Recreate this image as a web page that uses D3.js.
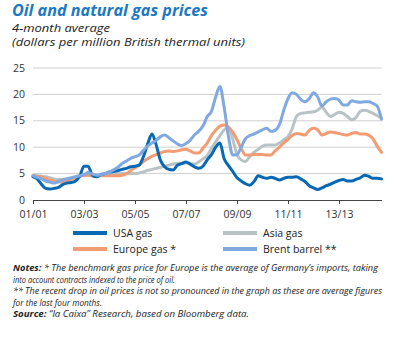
<!DOCTYPE html>
<html>
<head>
<meta charset="utf-8">
<script src="https://cdn.jsdelivr.net/npm/d3@7"></script>
<style>
  body { margin: 0; background: #fff; }
  svg { display: block; font-family: "Open Sans", "Noto Sans", sans-serif; }
</style>
</head>
<body>
<svg width="397" height="338"></svg>
<script>
// bimonthly dates, Jan 2001 .. Sep 2014
const dates = d3.timeMonth.every(2).range(new Date(2001, 0, 1), new Date(2014, 9, 1));

const usaGas = [
  4.4, 4.0, 3.0, 2.2, 2.1, 2.2,
  2.4, 2.9, 3.2, 3.3, 3.6, 4.5,
  6.4, 6.4, 4.7, 4.4, 4.8, 5.0,
  5.3, 5.4, 5.6, 5.8, 6.0, 6.3,
  6.4, 6.6, 8.2, 10.6, 12.5, 10.4,
  7.5, 6.3, 5.8, 5.7, 6.6, 6.9,
  7.2, 6.8, 6.3, 6.0, 6.4, 7.6,
  8.6, 10.0, 10.8, 7.8, 6.5, 5.4,
  4.2, 3.6, 3.1, 2.8, 3.5, 4.6,
  4.3, 4.1, 4.3, 4.1, 3.8, 4.1,
  4.3, 4.3, 4.4, 4.0, 3.5, 2.7,
  2.3, 2.0, 2.3, 2.7, 3.0, 3.4,
  3.7, 3.9, 3.6, 3.6, 3.9, 4.2,
  4.7, 4.5, 4.1, 4.1, 4.0
];

const asiaGas = [
  4.7, 4.6, 4.5, 4.4, 4.2, 4.0,
  3.9, 3.9, 4.0, 4.1, 4.3, 4.5,
  4.6, 4.7, 4.6, 4.6, 4.7, 4.8,
  4.9, 4.9, 5.0, 5.0, 5.0, 5.0,
  5.0, 5.1, 5.3, 5.6, 5.8, 6.0,
  6.2, 6.4, 6.6, 6.8, 6.9, 6.9,
  7.0, 6.9, 6.8, 7.2, 7.8, 8.4,
  9.8, 11.0, 12.2, 13.3, 13.8, 11.5,
  8.6, 7.6, 7.3, 8.2, 9.0, 9.6,
  10.2, 10.4, 10.4, 10.4, 10.8, 11.4,
  12.0, 13.5, 15.8, 16.4, 16.5, 16.6,
  16.7, 17.0, 17.6, 16.6, 15.8, 16.2,
  16.6, 16.4, 15.8, 15.2, 15.6, 16.8,
  17.0, 16.8, 16.4, 16.0, 15.5
];

const europeGas = [
  4.6, 4.5, 4.4, 4.1, 3.8, 3.6,
  3.4, 3.4, 3.6, 3.9, 4.2, 4.5,
  4.7, 4.7, 4.6, 4.6, 4.6, 4.6,
  4.6, 4.6, 4.6, 4.7, 5.0, 5.6,
  6.1, 6.6, 7.3, 7.8, 8.3, 8.6,
  8.9, 9.2, 9.3, 9.2, 9.3, 9.5,
  9.6, 9.3, 8.9, 8.9, 9.8, 10.8,
  12.2, 13.2, 14.0, 14.2, 13.8, 12.8,
  11.4, 9.8, 8.5, 8.5, 8.6, 8.6,
  8.6, 8.5, 8.5, 9.3, 10.0, 10.8,
  11.5, 12.2, 12.6, 12.5, 12.3, 13.2,
  13.6, 13.3, 12.3, 12.6, 12.9, 12.8,
  12.6, 12.4, 12.3, 12.6, 12.8, 12.5,
  12.5, 12.3, 11.6, 10.2, 9.0
];

const brent = [
  4.6, 4.3, 4.0, 3.6, 3.4, 3.2,
  3.5, 3.8, 4.0, 4.2, 4.4, 4.6,
  4.8, 5.2, 4.9, 4.7, 4.8, 5.0,
  5.3, 5.7, 6.2, 6.9, 7.4, 7.9,
  8.2, 8.5, 9.4, 10.2, 10.8, 11.3,
  12.0, 12.3, 11.8, 11.2, 10.6, 10.3,
  10.7, 11.3, 12.3, 13.0, 14.0, 15.8,
  16.8, 19.5, 21.5, 17.5, 12.0, 8.5,
  8.6, 10.0, 11.6, 12.2, 12.5, 12.9,
  13.3, 13.6, 13.0, 13.2, 14.3, 17.0,
  19.2, 20.3, 20.0, 19.1, 18.6, 19.2,
  20.3, 19.5, 17.8, 18.6, 19.1, 19.2,
  18.9, 18.0, 18.0, 18.8, 18.6, 18.5,
  18.6, 18.6, 18.3, 17.8, 15.3
];

const yTicks = [0, 5, 10, 15, 20, 25];
const tickYears = [2001, 2003, 2005, 2007, 2009, 2011, 2013];
const tickLabels = ["01/01", "03/03", "05/05", "07/07", "09/09", "11/11", "13/13"];

const series = [
  { name: "Asia gas", values: asiaGas, color: "#b9c3c5" },
  { name: "Europe gas *", values: europeGas, color: "#f39b72" },
  { name: "USA gas", values: usaGas, color: "#0768b3" },
  { name: "Brent barrel **", values: brent, color: "#80a9df" }
];

const svg = d3.select("svg");

const x = d3.scaleTime()
  .domain([new Date(2001, 0, 1), new Date(2014, 8, 1)])
  .range([33, 381.5]);

const y = d3.scaleLinear().domain([0, 25]).range([200, 68]);

// title
svg.append("text")
  .attr("x", 12).attr("y", 16)
  .attr("font-size", 16).attr("font-weight", "bold").attr("font-style", "italic")
  .attr("fill", "#1b78c2")
  .attr("textLength", 196).attr("lengthAdjust", "spacingAndGlyphs")
  .text("Oil and natural gas prices");

svg.append("text")
  .attr("x", 12).attr("y", 32)
  .attr("font-size", 11.5).attr("font-style", "italic").attr("fill", "#222")
  .attr("textLength", 98).attr("lengthAdjust", "spacingAndGlyphs")
  .text("4-month average");

svg.append("text")
  .attr("x", 12).attr("y", 46)
  .attr("font-size", 11.5).attr("font-style", "italic").attr("fill", "#222")
  .attr("textLength", 233).attr("lengthAdjust", "spacingAndGlyphs")
  .text("(dollars per million British thermal units)");

// grid
svg.append("g")
  .selectAll("line")
  .data(yTicks.filter(d => d > 0))
  .join("line")
  .attr("x1", 33).attr("x2", 381.5)
  .attr("y1", d => y(d)).attr("y2", d => y(d))
  .attr("stroke", "#cfcfcf").attr("stroke-width", 1);

// y labels
svg.append("g")
  .selectAll("text")
  .data(yTicks)
  .join("text")
  .attr("x", 25).attr("y", d => y(d) + 3.5)
  .attr("text-anchor", "end")
  .attr("font-size", 10.5).attr("fill", "#333")
  .text(d => d);

// x axis
const xAxis = d3.axisBottom(x)
  .tickValues(tickYears.map(yr => new Date(yr, 0, 1)))
  .tickFormat((d, i) => tickLabels[i])
  .tickSize(4)
  .tickSizeOuter(0);

const axisG = svg.append("g")
  .attr("transform", "translate(0,200)")
  .call(xAxis);
axisG.select(".domain").attr("stroke", "#444");
axisG.selectAll(".tick line").attr("stroke", "#444");
axisG.selectAll(".tick text")
  .attr("font-family", "'Open Sans', sans-serif")
  .attr("font-size", 10.5).attr("fill", "#333").attr("y", 7).attr("dy", "1em");

// lines
const line = d3.line()
  .x((d, i) => x(dates[i]))
  .y(d => y(d))
  .curve(d3.curveMonotoneX);

svg.append("g")
  .selectAll("path")
  .data(series)
  .join("path")
  .attr("d", d => line(d.values))
  .attr("fill", "none")
  .attr("stroke", d => d.color)
  .attr("stroke-width", 3)
  .attr("stroke-linejoin", "round")
  .attr("stroke-linecap", "round");

// legend
const legendItems = [
  { s: series[2], x: 73, y: 233 },
  { s: series[0], x: 223, y: 233 },
  { s: series[1], x: 73, y: 249 },
  { s: series[3], x: 223, y: 249 }
];

const lg = svg.append("g")
  .selectAll("g")
  .data(legendItems)
  .join("g")
  .attr("transform", d => `translate(${d.x},${d.y})`);

lg.append("line")
  .attr("x1", 0).attr("x2", 34)
  .attr("stroke", d => d.s.color)
  .attr("stroke-width", 4);

lg.append("text")
  .attr("x", 40).attr("y", 4)
  .attr("font-size", 10.5).attr("fill", "#222")
  .text(d => d.s.name);

// notes
const notes = [
  { bold: "Notes:", rest: " * The benchmark gas price for Europe is the average of Germany\u2019s imports, taking", w: 365, y: 271 },
  { bold: "", rest: "into account contracts indexed to the price of oil.", w: 162, y: 282.5 },
  { bold: "", rest: "** The recent drop in oil prices is not so pronounced in the graph as these are average figures", w: 369, y: 294 },
  { bold: "", rest: "for the last four months.", w: 89, y: 305.5 },
  { bold: "Source:", rest: " \u201Cla Caixa\u201D Research, based on Bloomberg data.", w: 236, y: 317 }
];

const nt = svg.append("g")
  .selectAll("text")
  .data(notes)
  .join("text")
  .attr("x", 13).attr("y", d => d.y)
  .attr("font-size", 8.2).attr("font-style", "italic").attr("fill", "#222")
  .attr("textLength", d => d.w).attr("lengthAdjust", "spacingAndGlyphs");

nt.append("tspan").attr("font-weight", "bold").text(d => d.bold);
nt.append("tspan").text(d => d.rest);
</script>
</body>
</html>
